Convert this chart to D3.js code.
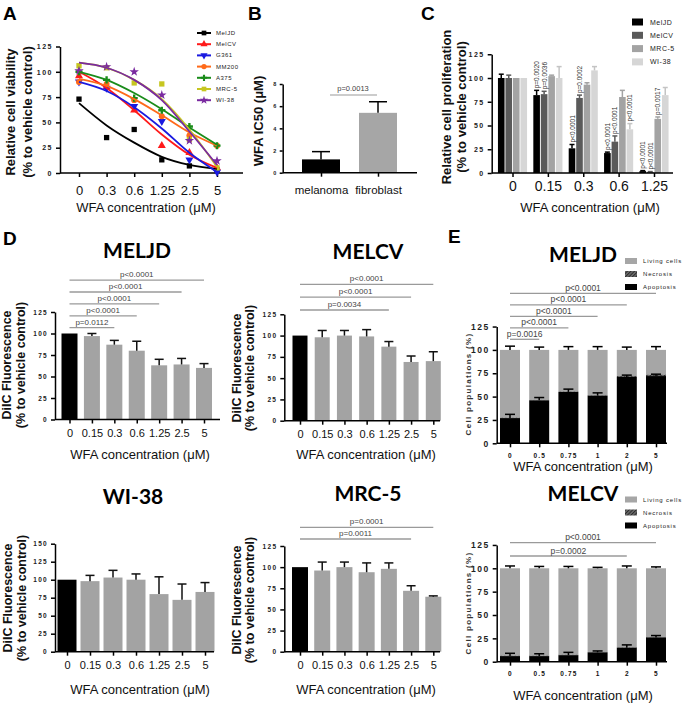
<!DOCTYPE html>
<html><head><meta charset="utf-8">
<script src="https://cdn.jsdelivr.net/npm/d3@7"></script>
<style>
body{margin:0;background:#fff}
svg{display:block}
</style></head><body>
<svg id="c" width="685" height="703"></svg>
<script>
// ================= DATA =================
// Panel A – cell viability (dots = means, fit = fitted curve read at each dose)
const concA = ["0","0.3","0.6","1.25","2.5","5"];
const seriesA = ["MelJD","MelCV","G361","MM200","A375","MRC-5","WI-38"];
const ptsMelJD = [73,35,43,13,7,3];
const ptsMelCV = [96,85,62,27,20,5];
const ptsG361  = [90,84,66,51,13,1];
const ptsMM200 = [90,88,72,56,37,27];
const ptsA375  = [100,92,74,62,46,27];
const ptsMRC5  = [106,104,89,88,33,5];
const ptsWI38  = [101,105,100,77,32,12];
const fitMelJD = [69,47,30,16,8,4];
const fitMelCV = [100,84,62,38,18,5];
const fitG361  = [90,81,65,44,20,1];
const fitMM200 = [93,86,73,57,40,27];
const fitA375  = [100,92,79,63,45,28];
const fitMRC5  = [109,104,92,73,43,6];
const fitWI38  = [109,104,92,72,41,8];
const yTicksA = [0,25,50,75,100,125];

// Panel B – IC50
const catsB = ["melanoma","fibroblast"];
const ic50B = [1.2,5.4];
const ic50ErrB = [0.7,1.0];
const yTicksB = [0,2,4,6,8];
const pTextB = "p=0.0013";

// Panel C – proliferation
const concC = ["0","0.15","0.3","0.6","1.25"];
const seriesC = ["MelJD","MelCV","MRC-5","WI-38"];
const profMelJD = [100,82,26,21,2];
const profMelCV = [100,83,79,33,1];
const profMRC5  = [100,102,93,80,57];
const profWI38  = [100,100,108,46,82];
const errMelJD = [4,5,4,1,0.5];
const errMelCV = [3,3,3,6,0.5];
const errMRC5  = [0,1,2,7,2];
const errWI38  = [0,12,4,6,8];
const yTicksC = [0,25,50,75,100,125];
const pGroupC  = ["0.15","0.15","0.3","0.3","0.6","0.6","0.6","1.25","1.25","1.25"];
const pSeriesC = ["MelJD","MelCV","MelJD","MelCV","MelJD","MelCV","WI-38","MelJD","MelCV","MRC-5"];
const pTextC   = ["p=0.0020","p=0.0036","p<0.0001","p=0.0002","p<0.0001","p<0.0001","p<0.0001","p<0.0001","p<0.0001","p=0.0017"];

// Panel D – DiIC fluorescence
const concD = ["0","0.15","0.3","0.6","1.25","2.5","5"];
const dMELJD = [100,97,87,80,63,64,60];
const eMELJD = [0,3,5,11,7,7,5];
const dMELCV = [100,98,100,99,87,69,70];
const eMELCV = [0,8,6,8,6,7,11];
const dWI38  = [100,98,103,100,80,72,83];
const eWI38  = [0,8,10,8,24,22,13];
const dMRC5  = [100,96,100,94,98,72,65];
const eMRC5  = [0,10,6,11,7,6,1];
const yTicksD = [0,25,50,75,100,125];
const yTicksDWI = [0,25,50,75,100,125,150];
const sigToMELJD = ["0.3","0.6","1.25","2.5","5"];
const sigTxtMELJD = ["p=0.0112","p<0.0001","p<0.0001","p<0.0001","p<0.0001"];
const sigToMELCV = ["1.25","2.5","5"];
const sigTxtMELCV = ["p=0.0034","p<0.0001","p<0.0001"];
const sigToMRC5 = ["2.5","5"];
const sigTxtMRC5 = ["p=0.0011","p=0.0001"];

// Panel E – cell populations
const concE = ["0","0.5","0.75","1","2","5"];
const popLegend = ["Living cells","Necrosis","Apoptosis"];
const apoEMELJD = [27,46,55,51,71,72];
const apoErrEMELJD = [4,3,3,3,2,2];
const necEMELJD = [0.5,0.5,0.5,0.5,1,1.5];
const livErrEMELJD = [4,3,3.5,3.5,3,3.5];
const apoEMELCV = [6,6,7,10,15,26];
const apoErrEMELCV = [3,2.5,3,1.5,3,2];
const necEMELCV = [0.5,0.5,0.5,0.5,0.5,0.5];
const livErrEMELCV = [2.5,2,2,1,2.5,1.5];
const yTicksE = [0,25,50,75,100,125];
const sigToEMELJD = ["0.5","0.75","1","2","5"];
const sigTxtEMELJD = ["p=0.0016","p<0.0001","p<0.0001","p<0.0001","p<0.0001"];
const sigToEMELCV = ["2","5"];
const sigTxtEMELCV = ["p=0.0002","p<0.0001"];

// ================= DRAWING =================
const F = '"Liberation Sans", Arial, Helvetica, sans-serif';
const FT = 'Lato, "Open Sans", "Liberation Sans", sans-serif';
const svg = d3.select("#c").attr("font-family", F);

function yAxisLeft(x0, y, ticks, fs, ls, ts) {
  const g = svg.append("g").attr("transform", `translate(${x0},0)`)
    .call(d3.axisLeft(y).tickValues(ticks).tickSize(ts || 4).tickSizeOuter(0).tickPadding(3).tickFormat(d3.format("d")));
  g.attr("font-family", F).attr("font-size", null);
  g.select(".domain").attr("stroke", "#000").attr("stroke-width", 1.5);
  g.selectAll(".tick line").attr("stroke", "#000").attr("stroke-width", 1.5);
  g.selectAll(".tick text").attr("font-size", fs).attr("font-weight", "bold")
    .attr("letter-spacing", ls).attr("fill", "#222");
  return g;
}
function xAxisBottom(x, y0, x0, x1, off, fs, bold, ls) {
  const g = svg.append("g").attr("transform", `translate(0,${y0})`)
    .call(d3.axisBottom(x).tickSize(4).tickSizeOuter(0));
  g.attr("font-family", F).attr("font-size", null);
  g.select(".domain").attr("d", `M${x0},0H${x1}`).attr("stroke", "#000").attr("stroke-width", 1.5);
  g.selectAll(".tick line").attr("stroke", "#000").attr("stroke-width", 1.5);
  g.selectAll(".tick text").attr("y", off).attr("dy", "0.35em").attr("font-size", fs)
    .attr("font-weight", bold ? "bold" : "normal").attr("letter-spacing", ls || 0).attr("fill", "#111");
  return g;
}
function yTitle(lines, xs, cy, fs) {
  lines.forEach((t, i) => svg.append("text")
    .attr("transform", `translate(${xs[i]},${cy}) rotate(-90)`)
    .attr("text-anchor", "middle").attr("dominant-baseline", "central")
    .attr("font-size", fs).attr("font-weight", "bold").attr("fill", "#111").text(t));
}
function text(x, y, t, fs, opts = {}) {
  return svg.append("text").attr("x", x).attr("y", y).attr("text-anchor", opts.anchor || "middle")
    .attr("dominant-baseline", "central").attr("font-size", fs)
    .attr("font-weight", opts.bold ? "bold" : "normal").attr("fill", opts.fill || "#111")
    .attr("letter-spacing", opts.ls || 0).attr("font-family", opts.ff || F).text(t);
}
function errBar(x, yTop, yCap, w, col) {
  svg.append("line").attr("x1", x).attr("x2", x).attr("y1", yTop).attr("y2", yCap)
    .attr("stroke", col).attr("stroke-width", 1.5);
  svg.append("line").attr("x1", x - w / 2).attr("x2", x + w / 2).attr("y1", yCap).attr("y2", yCap)
    .attr("stroke", col).attr("stroke-width", 1.5);
}
function sigLines(x, fromCat, toCats, txts, yFirst, step, fs) {
  toCats.forEach((c, i) => {
    const yy = yFirst - i * step;
    svg.append("line").attr("x1", x(fromCat)).attr("x2", x(c)).attr("y1", yy).attr("y2", yy)
      .attr("stroke", "#9a9a9a").attr("stroke-width", 1.3);
    text((x(fromCat) + x(c)) / 2, yy - 5.5, txts[i], fs, { fill: "#444" });
  });
}

// panel letters
[["A", 3, 20], ["B", 248, 20], ["C", 421, 20], ["D", 3, 245], ["E", 448, 243]].forEach(d =>
  svg.append("text").attr("x", d[1]).attr("y", d[2]).attr("font-size", 19).attr("font-weight", "bold").text(d[0]));

// ---------- Panel A ----------
{
  const xA = d3.scalePoint().domain(concA).range([79, 217]);
  const yA = d3.scaleLinear().domain([0, 125]).range([173, 46.5]);
  const colors = ["#000000", "#ff1a1a", "#1a1ae0", "#ff6a1a", "#1a8c1a", "#c6c620", "#7a2aa0"];
  const syms = [d3.symbolSquare, d3.symbolTriangle, d3.symbolTriangle, d3.symbolCircle, d3.symbolCross, d3.symbolSquare, d3.symbolStar];
  const rots = [0, 0, 180, 0, 0, 0, 0];
  const pts = [ptsMelJD, ptsMelCV, ptsG361, ptsMM200, ptsA375, ptsMRC5, ptsWI38];
  const fits = [fitMelJD, fitMelCV, fitG361, fitMM200, fitA375, fitMRC5, fitWI38];
  yAxisLeft(60, yA, yTicksA, 7, 1.5);
  xAxisBottom(xA, 173, 60, 243, 17, 13, false);
  yTitle(["Relative cell viability", "(% to vehicle control)"], [10, 27], 112, 13);
  text(146, 207, "WFA concentration (μM)", 13);
  const line = d3.line().x((d, i) => xA(concA[i])).y(d => yA(d)).curve(d3.curveMonotoneX);
  seriesA.forEach((s, k) => {
    svg.append("g").selectAll("path").data(pts[k]).join("path")
      .attr("d", d3.symbol(syms[k], 28))
      .attr("transform", (d, i) => `translate(${xA(concA[i])},${yA(d)}) rotate(${rots[k]})`)
      .attr("fill", colors[k]);
  });
  seriesA.forEach((s, k) => {
    svg.append("path").datum(fits[k]).attr("d", line).attr("fill", "none")
      .attr("stroke", colors[k]).attr("stroke-width", 1.8);
  });
  // legend
  seriesA.forEach((s, k) => {
    const yy = 33 + k * 11.2;
    svg.append("line").attr("x1", 197).attr("x2", 211).attr("y1", yy).attr("y2", yy)
      .attr("stroke", colors[k]).attr("stroke-width", 2);
    svg.append("path").attr("d", d3.symbol(syms[k], 22))
      .attr("transform", `translate(204,${yy}) rotate(${rots[k]})`).attr("fill", colors[k]);
    text(216, yy, s, 6, { anchor: "start", ls: 0.5, fill: "#222" });
  });
}

// ---------- Panel B ----------
{
  const xB = d3.scalePoint().domain(catsB).range([321, 378]);
  const yB = d3.scaleLinear().domain([0, 8]).range([172.7, 84]);
  const cols = ["#000", "#a6a6a6"];
  yAxisLeft(282.7, yB, yTicksB, 5.5, 0.3, 3);
  catsB.forEach((c, i) => {
    svg.append("rect").attr("x", xB(c) - 19).attr("width", 38)
      .attr("y", yB(ic50B[i])).attr("height", yB(0) - yB(ic50B[i])).attr("fill", cols[i]);
    errBar(xB(c), yB(ic50B[i]), yB(ic50B[i] + ic50ErrB[i]), 18, "#000");
  });
  xAxisBottom(xB, 172.7, 282.7, 417, 17, 11.5, false);
  yTitle(["WFA IC50 (μM)"], [258], 121, 13);
  svg.append("line").attr("x1", 330).attr("x2", 377).attr("y1", 95).attr("y2", 95)
    .attr("stroke", "#9a9a9a").attr("stroke-width", 1.2);
  text(353, 88, pTextB, 7.5, { fill: "#444" });
}

// ---------- Panel C ----------
{
  const xC = d3.scalePoint().domain(concC).range([512.5, 654]);
  const sub = d3.scalePoint().domain(seriesC).range([-11.25, 11.25]);
  const yC = d3.scaleLinear().domain([0, 125]).range([173, 54.25]);
  const cols = ["#000000", "#5a5a5a", "#a3a3a3", "#d6d6d6"];
  const vals = [profMelJD, profMelCV, profMRC5, profWI38];
  const errs = [errMelJD, errMelCV, errMRC5, errWI38];
  yAxisLeft(491.7, yC, yTicksC, 7, 1.5);
  seriesC.forEach((s, k) => {
    concC.forEach((c, i) => {
      const cx = xC(c) + sub(s), v = vals[k][i];
      svg.append("rect").attr("x", cx - 3.3).attr("width", 6.6)
        .attr("y", yC(v)).attr("height", yC(0) - yC(v)).attr("fill", cols[k]);
      if (errs[k][i] > 0) errBar(cx, yC(v), yC(v + errs[k][i]), 5, k === 3 ? "#c4c4c4" : cols[k]);
    });
  });
  xAxisBottom(xC, 173, 491.7, 673, 13, 14, false);
  yTitle(["Relative cell proliferation", "(% to vehicle control)"], [446, 461], 107, 13);
  text(590, 207, "WFA concentration (μM)", 13);
  pTextC.forEach((t, j) => {
    const k = seriesC.indexOf(pSeriesC[j]);
    const i = concC.indexOf(pGroupC[j]);
    const cx = xC(pGroupC[j]) + sub(pSeriesC[j]);
    const yTop = yC(vals[k][i] + errs[k][i]) - 2;
    svg.append("text").attr("transform", `translate(${cx},${yTop}) rotate(-90)`)
      .attr("text-anchor", "start").attr("dominant-baseline", "central")
      .attr("font-size", 6.5).attr("fill", "#333").text(t);
  });
  seriesC.forEach((s, k) => {
    const yy = 22 + k * 13.3;
    svg.append("rect").attr("x", 632).attr("y", yy - 3.5).attr("width", 11).attr("height", 7).attr("fill", cols[k]);
    text(650, yy, s, 7, { anchor: "start", ls: 0.5, fill: "#222" });
  });
}

// ---------- Panel D ----------
function panelD(cfg, vals, errs, ticks, sigTo, sigTxt) {
  const x = d3.scalePoint().domain(concD).range([cfg.c0, cfg.c1]);
  const y = d3.scaleLinear().domain([0, ticks[ticks.length - 1]]).range([cfg.y0, cfg.yTop]);
  yAxisLeft(cfg.ax, y, ticks, 6.5, 1.3);
  concD.forEach((c, i) => {
    svg.append("rect").attr("x", x(c) - cfg.bw / 2).attr("width", cfg.bw)
      .attr("y", y(vals[i])).attr("height", y(0) - y(vals[i])).attr("fill", i === 0 ? "#000" : "#a3a3a3");
    if (errs[i] > 0) errBar(x(c), y(vals[i]), y(vals[i] + errs[i]), 9, "#111");
  });
  xAxisBottom(x, cfg.y0, cfg.ax, cfg.axEnd, 13.5, 11, false);
  text(cfg.tx, cfg.ty, cfg.title, 21, { bold: true, ff: FT, fill: "#000" });
  yTitle(["DiIC Fluorescence", "(% to vehicle control)"], cfg.ytx, cfg.ytc, 12.5);
  text(cfg.xtx, cfg.xty, "WFA concentration (μM)", 13);
  if (sigTo) sigLines(x, "0", sigTo, sigTxt, cfg.s0, cfg.ss, 8);
}
panelD({ c0: 69.5, c1: 204, bw: 16, ax: 55, axEnd: 220, y0: 419.5, yTop: 312, title: "MELJD", tx: 137, ty: 249,
  ytx: [7, 21], ytc: 365, xtx: 140, xty: 454, s0: 327.7, ss: 11.9 }, dMELJD, eMELJD, yTicksD, sigToMELJD, sigTxtMELJD);
panelD({ c0: 300, c1: 433.3, bw: 15, ax: 284.3, axEnd: 440, y0: 420.7, yTop: 314.3, title: "MELCV", tx: 368, ty: 250,
  ytx: [237, 250], ytc: 368, xtx: 366, xty: 454, s0: 310, ss: 12.8 }, dMELCV, eMELCV, yTicksD, sigToMELCV, sigTxtMELCV);
panelD({ c0: 67, c1: 205, bw: 19, ax: 55, axEnd: 214, y0: 651.7, yTop: 543.7, title: "WI-38", tx: 133, ty: 495,
  ytx: [8, 22], ytc: 598, xtx: 140, xty: 689 }, dWI38, eWI38, yTicksDWI, null, null);
panelD({ c0: 300, c1: 433.3, bw: 16, ax: 284.3, axEnd: 440, y0: 651.7, yTop: 546, title: "MRC-5", tx: 368, ty: 492,
  ytx: [237, 250], ytc: 600, xtx: 366, xty: 689, s0: 539, ss: 11.7 }, dMRC5, eMRC5, yTicksD, sigToMRC5, sigTxtMRC5);

// ---------- Panel E ----------
const defs = svg.append("defs");
const pat = defs.append("pattern").attr("id", "hatch").attr("patternUnits", "userSpaceOnUse")
  .attr("width", 2.5).attr("height", 2.5).attr("patternTransform", "rotate(45)");
pat.append("rect").attr("width", 2.5).attr("height", 2.5).attr("fill", "#666");
pat.append("line").attr("x1", 0).attr("x2", 0).attr("y1", 0).attr("y2", 2.5).attr("stroke", "#111").attr("stroke-width", 1.2);

function panelE(cfg, apo, apoErr, nec, livErr, sigTo, sigTxt) {
  const x = d3.scalePoint().domain(concE).range([510, 656]);
  const y = d3.scaleLinear().domain([0, 125]).range([cfg.y0, cfg.y0 - 125 * 0.934]);
  yAxisLeft(496.7, y, yTicksE, 8.5, 1.5);
  concE.forEach((c, i) => {
    const cx = x(c), bw = 20;
    svg.append("rect").attr("x", cx - bw / 2).attr("width", bw).attr("y", y(100)).attr("height", y(apo[i] + nec[i]) - y(100)).attr("fill", "#a6a6a6");
    svg.append("rect").attr("x", cx - bw / 2).attr("width", bw).attr("y", y(apo[i] + nec[i])).attr("height", y(apo[i]) - y(apo[i] + nec[i])).attr("fill", "url(#hatch)");
    svg.append("rect").attr("x", cx - bw / 2).attr("width", bw).attr("y", y(apo[i])).attr("height", y(0) - y(apo[i])).attr("fill", "#000");
    errBar(cx, y(apo[i]), y(apo[i] + apoErr[i]), 10, "#000");
    errBar(cx, y(100), y(100 + livErr[i]), 10, "#000");
  });
  xAxisBottom(x, cfg.y0, 496.7, 667, 12, 6.5, true, 1.2);
  text(583, cfg.ty, cfg.title, 21, { bold: true, ff: FT, fill: "#000" });
  text(583, cfg.xty, "WFA concentration (μM)", 13);
  svg.append("text").attr("transform", `translate(468,${cfg.ytc}) rotate(-90)`)
    .attr("text-anchor", "middle").attr("dominant-baseline", "central").attr("font-size", 8)
    .attr("font-weight", "bold").attr("letter-spacing", 1.3).attr("fill", "#333").text("Cell populations (%)");
  const fills = ["#a6a6a6", "url(#hatch)", "#000"];
  popLegend.forEach((t, k) => {
    const yy = cfg.l0 + k * 13;
    svg.append("rect").attr("x", 625).attr("y", yy - 3).attr("width", 12).attr("height", 6).attr("fill", fills[k]);
    text(643, yy, t, 6, { anchor: "start", ls: 0.8, fill: "#222" });
  });
  sigLines(x, "0", sigTo, sigTxt, cfg.s0, cfg.ss, 8.5);
}
panelE({ y0: 443.3, ty: 253, xty: 466, ytc: 384, l0: 261, s0: 339.3, ss: 11.5, title: "MELJD" },
  apoEMELJD, apoErrEMELJD, necEMELJD, livErrEMELJD, sigToEMELJD, sigTxtEMELJD);
panelE({ y0: 661.7, ty: 492, xty: 695, ytc: 603, l0: 499.5, s0: 556, ss: 13.3, title: "MELCV" },
  apoEMELCV, apoErrEMELCV, necEMELCV, livErrEMELCV, sigToEMELCV, sigTxtEMELCV);
</script>
</body></html>
